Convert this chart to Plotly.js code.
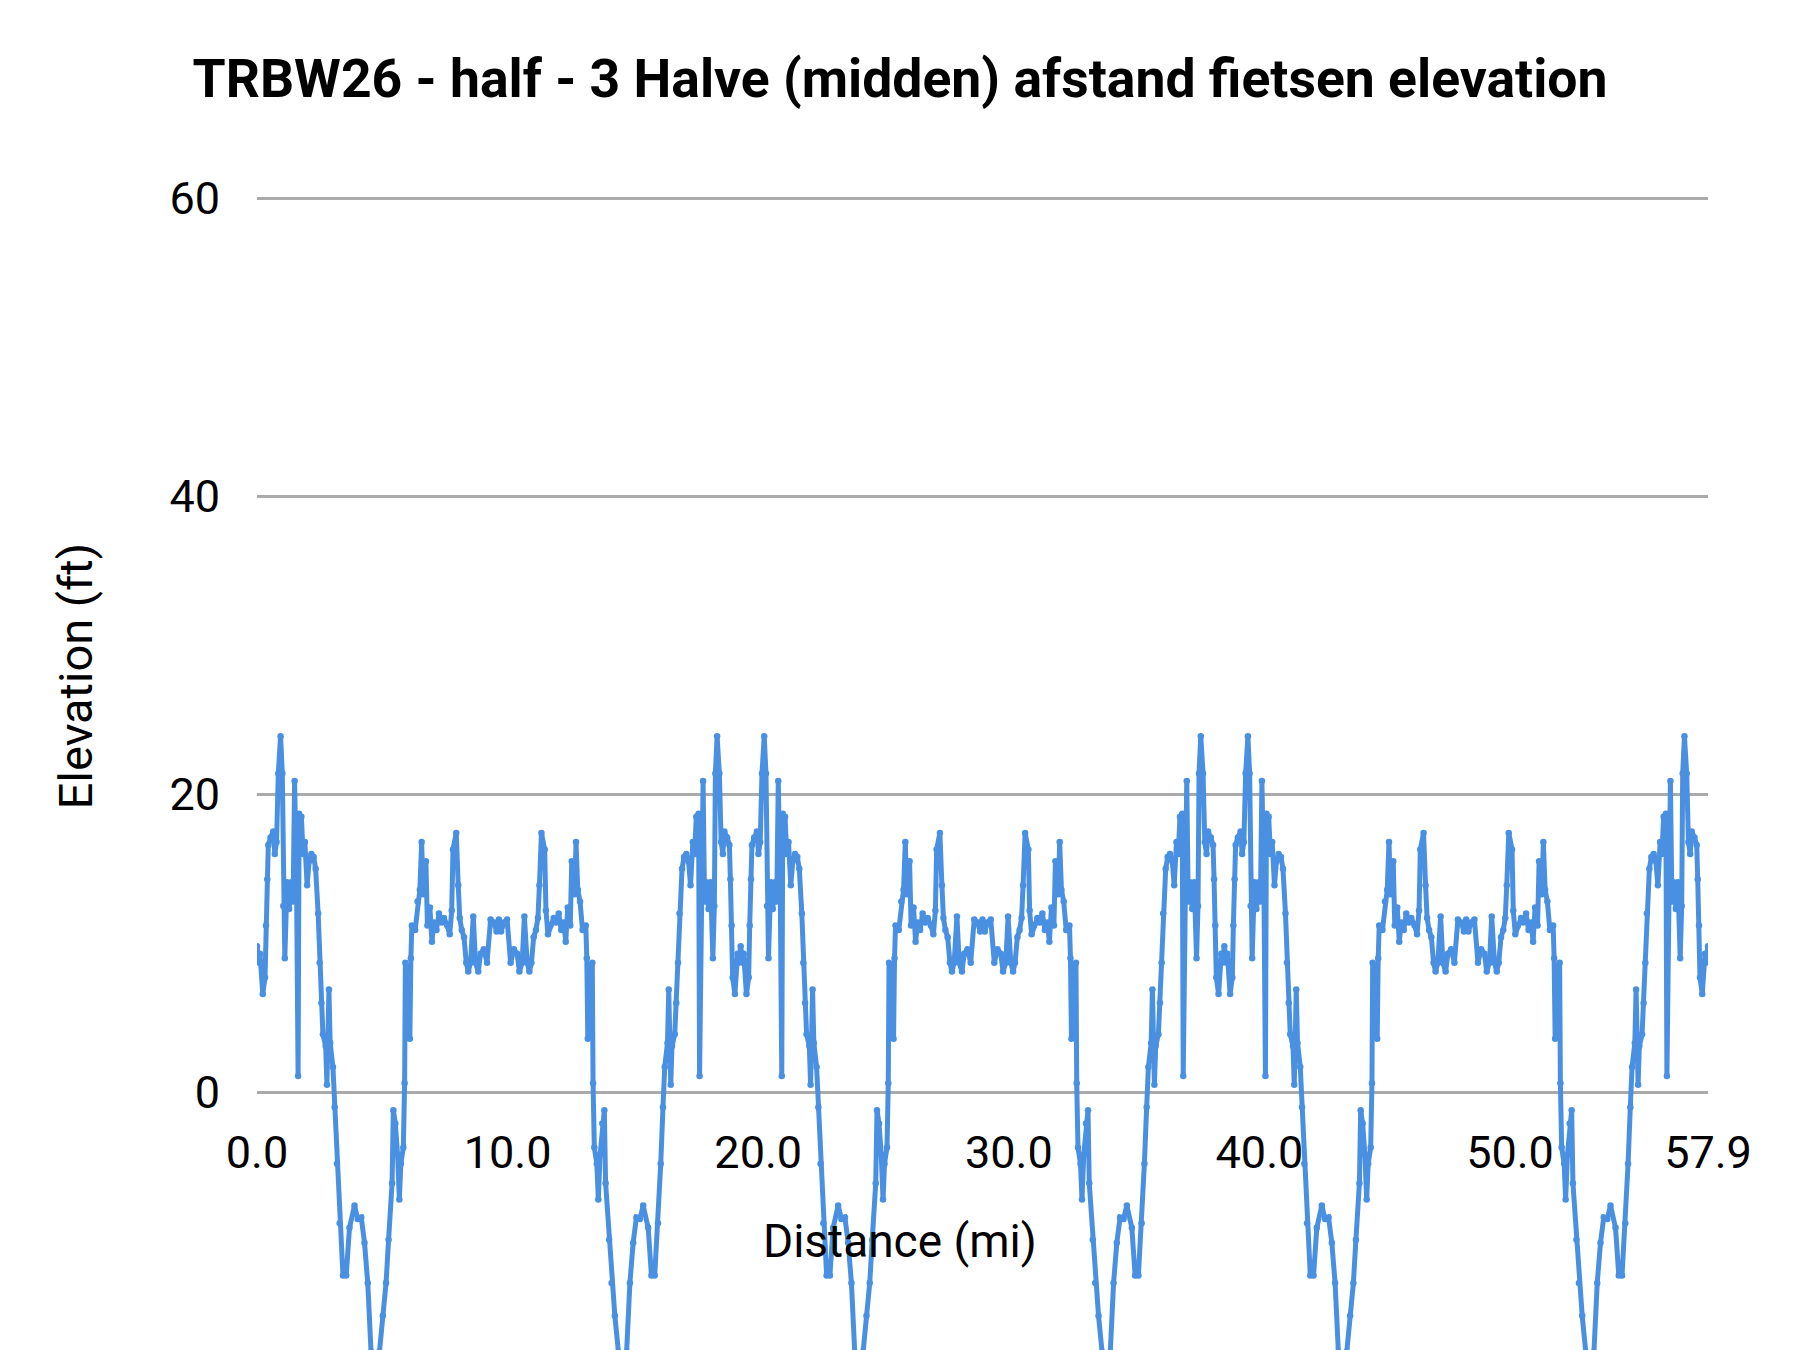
<!DOCTYPE html>
<html>
<head>
<meta charset="utf-8">
<script src="https://cdn.plot.ly/plotly-3.0.1.min.js"></script>
<style>
  html, body { margin: 0; padding: 0; background: #fff; }
  #myDiv { width: 1800px; height: 1350px; }
</style>
</head>
<body>
<div id="myDiv"></div>
<script>
// distance (mi) and elevation (ft), lap by lap
var dist1 = [
  0.00,0.09,0.12,0.23,0.32,0.36,0.41,0.45,0.54,0.65,0.71,0.78,0.85,0.94,1.01,1.05,1.11,1.20,1.28,1.38,1.44,1.50,1.58,1.64,1.68,1.77,1.84,1.91,2.00,2.08,2.17,2.26,2.34,2.44,2.50,2.57,2.63,2.74,2.79,2.87,2.92,3.03,3.10,3.19,3.30,3.43,3.56,3.69,3.89,4.02,4.16,4.29,4.42,4.55,4.71,4.88,5.02,5.15,5.25,5.39,5.44,5.52,5.61,5.68,5.74,5.84,5.89,5.92,6.01,6.10,6.14,6.18,6.31,6.41,6.50,6.57,6.63,6.74,6.80,6.90,6.98,7.06,7.16,7.26,7.37,7.46,7.59,7.69,7.77,7.82,7.95,8.03,8.09,8.17,8.26,8.35,8.43,8.52,8.63,8.72,8.83,8.92,9.05,9.18,9.32,9.45,9.56,9.65,
  9.74,9.85,9.98,10.12,10.25,10.38,10.47,10.58,10.67,10.78,10.87,10.95,11.04,11.13,11.21,11.27,11.35,11.48,11.53,11.61,11.71,11.84,11.93,12.04,12.14,12.24,12.32,12.40,12.50,12.56,12.67,12.73,12.80,12.89,12.99,13.12,13.16,13.20,13.29,13.38,13.41,13.46,13.56,13.62,13.69,13.78,13.86,13.91,14.05,14.15,14.28,14.42,14.59,14.75,14.88,15.01,15.14,15.28,15.41,15.61,15.74,15.87,16.00,16.11,16.20,16.27,16.38,16.43,16.51,16.56,16.67,16.73,16.80,16.86,16.96,17.04,17.13,17.22,17.30,17.39,17.46,17.53,17.62,17.66,17.72,17.80,17.86,17.92,18.02,18.10,18.19,18.25,18.29,18.36,18.45,18.52,18.59,18.65,18.76,18.85,18.89,18.94,18.98,19.07,19.18,19.21,19.30
];
var elev1 = [
  9.8,8.7,9.3,6.6,7.7,11.2,14.3,16.6,17.1,17.5,16.0,16.8,21.4,23.9,21.4,12.5,9.0,14.1,12.3,14.1,12.8,20.9,13.6,1.1,18.7,18.5,16.0,16.8,13.9,15.5,16.0,15.8,15.0,12.0,8.7,6.0,3.9,3.1,0.5,6.9,3.3,1.7,-1.0,-4.8,-8.8,-12.3,-12.3,-9.1,-7.6,-8.5,-8.4,-10.1,-12.8,-17.4,-20.5,-17.4,-15.0,-12.8,-9.9,-6.1,-1.2,-2.1,-4.2,-7.2,-4.8,-3.7,0.6,8.7,8.2,3.6,9.0,11.2,10.9,12.8,13.6,16.8,13.3,15.5,11.2,12.4,10.1,11.4,10.9,12.0,11.4,11.7,11.2,10.6,12.2,16.3,17.4,13.9,11.7,10.9,10.4,8.7,8.1,8.7,11.8,8.7,8.1,9.3,9.6,8.7,11.6,11.4,10.8,11.6,
  10.8,11.4,11.6,8.7,9.6,9.3,8.1,8.7,11.8,8.7,8.1,8.7,10.4,10.9,11.7,13.9,17.4,16.3,12.2,10.6,11.2,11.7,11.4,12.0,10.9,11.4,10.1,12.4,11.2,15.5,13.3,16.8,13.6,12.8,10.9,11.2,9.0,3.6,8.2,8.7,0.6,-3.7,-4.8,-7.2,-4.2,-2.1,-1.2,-6.1,-9.9,-12.8,-15.0,-17.4,-20.5,-17.4,-12.8,-10.1,-8.4,-8.5,-7.6,-9.1,-12.3,-12.3,-8.8,-4.8,-1.0,1.7,3.3,6.9,0.5,3.1,3.9,6.0,8.7,12.0,15.0,15.8,16.0,15.5,13.9,16.8,16.0,18.5,18.7,1.1,13.6,20.9,12.8,14.1,12.3,14.1,9.0,12.5,21.4,23.9,21.4,16.8,16.0,17.5,17.1,16.6,14.3,11.2,7.7,6.6,9.3,8.7,9.8
];

var dist2 = [
  19.39,19.42,19.53,19.62,19.66,19.71,19.75,19.84,19.95,20.01,20.08,20.15,20.24,20.31,20.35,20.41,20.50,20.58,20.68,20.74,20.80,20.88,20.94,20.98,21.07,21.14,21.21,21.30,21.38,21.47,21.56,21.64,21.74,21.80,21.87,21.93,22.04,22.09,22.17,22.22,22.33,22.40,22.49,22.60,22.73,22.86,22.99,23.19,23.32,23.46,23.59,23.72,23.85,24.01,24.18,24.32,24.45,24.55,24.69,24.74,24.82,24.91,24.98,25.04,25.14,25.19,25.22,25.31,25.40,25.44,25.48,25.61,25.71,25.80,25.87,25.93,26.04,26.10,26.20,26.28,26.36,26.46,26.56,26.67,26.76,26.89,26.99,27.07,27.12,27.25,27.33,27.39,27.47,27.56,27.65,27.73,27.82,27.93,28.02,28.13,28.22,28.35,28.48,28.62,28.75,28.86,28.95,
  29.04,29.15,29.28,29.42,29.55,29.68,29.77,29.88,29.97,30.08,30.17,30.25,30.34,30.43,30.51,30.57,30.65,30.78,30.83,30.91,31.01,31.14,31.23,31.34,31.44,31.54,31.62,31.70,31.80,31.86,31.97,32.03,32.10,32.19,32.29,32.42,32.46,32.50,32.59,32.68,32.71,32.76,32.86,32.92,32.99,33.08,33.16,33.21,33.35,33.45,33.58,33.72,33.89,34.05,34.18,34.31,34.44,34.58,34.71,34.91,35.04,35.17,35.30,35.41,35.50,35.57,35.68,35.73,35.81,35.86,35.97,36.03,36.10,36.16,36.26,36.34,36.43,36.52,36.60,36.69,36.76,36.83,36.92,36.96,37.02,37.10,37.16,37.22,37.32,37.40,37.49,37.55,37.59,37.66,37.75,37.82,37.89,37.95,38.06,38.15,38.19,38.24,38.28,38.37,38.48,38.51,38.60
];
var elev2 = [
  8.7,9.3,6.6,7.7,11.2,14.3,16.6,17.1,17.5,16.0,16.8,21.4,23.9,21.4,12.5,9.0,14.1,12.3,14.1,12.8,20.9,13.6,1.1,18.7,18.5,16.0,16.8,13.9,15.5,16.0,15.8,15.0,12.0,8.7,6.0,3.9,3.1,0.5,6.9,3.3,1.7,-1.0,-4.8,-8.8,-12.3,-12.3,-9.1,-7.6,-8.5,-8.4,-10.1,-12.8,-17.4,-20.5,-17.4,-15.0,-12.8,-9.9,-6.1,-1.2,-2.1,-4.2,-7.2,-4.8,-3.7,0.6,8.7,8.2,3.6,9.0,11.2,10.9,12.8,13.6,16.8,13.3,15.5,11.2,12.4,10.1,11.4,10.9,12.0,11.4,11.7,11.2,10.6,12.2,16.3,17.4,13.9,11.7,10.9,10.4,8.7,8.1,8.7,11.8,8.7,8.1,9.3,9.6,8.7,11.6,11.4,10.8,11.6,
  10.8,11.4,11.6,8.7,9.6,9.3,8.1,8.7,11.8,8.7,8.1,8.7,10.4,10.9,11.7,13.9,17.4,16.3,12.2,10.6,11.2,11.7,11.4,12.0,10.9,11.4,10.1,12.4,11.2,15.5,13.3,16.8,13.6,12.8,10.9,11.2,9.0,3.6,8.2,8.7,0.6,-3.7,-4.8,-7.2,-4.2,-2.1,-1.2,-6.1,-9.9,-12.8,-15.0,-17.4,-20.5,-17.4,-12.8,-10.1,-8.4,-8.5,-7.6,-9.1,-12.3,-12.3,-8.8,-4.8,-1.0,1.7,3.3,6.9,0.5,3.1,3.9,6.0,8.7,12.0,15.0,15.8,16.0,15.5,13.9,16.8,16.0,18.5,18.7,1.1,13.6,20.9,12.8,14.1,12.3,14.1,9.0,12.5,21.4,23.9,21.4,16.8,16.0,17.5,17.1,16.6,14.3,11.2,7.7,6.6,9.3,8.7,9.8
];

var dist3 = [
  38.69,38.72,38.83,38.92,38.96,39.01,39.05,39.14,39.25,39.31,39.38,39.45,39.54,39.61,39.65,39.71,39.80,39.88,39.98,40.04,40.10,40.18,40.24,40.28,40.37,40.44,40.51,40.60,40.68,40.77,40.86,40.94,41.04,41.10,41.17,41.23,41.34,41.39,41.47,41.52,41.63,41.70,41.79,41.90,42.03,42.16,42.29,42.49,42.62,42.76,42.89,43.02,43.15,43.31,43.48,43.62,43.75,43.85,43.99,44.04,44.12,44.21,44.28,44.34,44.44,44.49,44.52,44.61,44.70,44.74,44.78,44.91,45.01,45.10,45.17,45.23,45.34,45.40,45.50,45.58,45.66,45.76,45.86,45.97,46.06,46.19,46.29,46.37,46.42,46.55,46.63,46.69,46.77,46.86,46.95,47.03,47.12,47.23,47.32,47.43,47.52,47.65,47.78,47.92,48.05,48.16,48.25,
  48.34,48.45,48.58,48.72,48.85,48.98,49.07,49.18,49.27,49.38,49.47,49.55,49.64,49.73,49.81,49.87,49.95,50.08,50.13,50.21,50.31,50.44,50.53,50.64,50.74,50.84,50.92,51.00,51.10,51.16,51.27,51.33,51.40,51.49,51.59,51.72,51.76,51.80,51.89,51.98,52.01,52.06,52.16,52.22,52.29,52.38,52.46,52.51,52.65,52.75,52.88,53.02,53.19,53.35,53.48,53.61,53.74,53.88,54.01,54.21,54.34,54.47,54.60,54.71,54.80,54.87,54.98,55.03,55.11,55.16,55.27,55.33,55.40,55.46,55.56,55.64,55.73,55.82,55.90,55.99,56.06,56.13,56.22,56.26,56.32,56.40,56.46,56.52,56.62,56.70,56.79,56.85,56.89,56.96,57.05,57.12,57.19,57.25,57.36,57.45,57.49,57.54,57.58,57.67,57.78,57.81,57.90
];
var elev3 = [
  8.7,9.3,6.6,7.7,11.2,14.3,16.6,17.1,17.5,16.0,16.8,21.4,23.9,21.4,12.5,9.0,14.1,12.3,14.1,12.8,20.9,13.6,1.1,18.7,18.5,16.0,16.8,13.9,15.5,16.0,15.8,15.0,12.0,8.7,6.0,3.9,3.1,0.5,6.9,3.3,1.7,-1.0,-4.8,-8.8,-12.3,-12.3,-9.1,-7.6,-8.5,-8.4,-10.1,-12.8,-17.4,-20.5,-17.4,-15.0,-12.8,-9.9,-6.1,-1.2,-2.1,-4.2,-7.2,-4.8,-3.7,0.6,8.7,8.2,3.6,9.0,11.2,10.9,12.8,13.6,16.8,13.3,15.5,11.2,12.4,10.1,11.4,10.9,12.0,11.4,11.7,11.2,10.6,12.2,16.3,17.4,13.9,11.7,10.9,10.4,8.7,8.1,8.7,11.8,8.7,8.1,9.3,9.6,8.7,11.6,11.4,10.8,11.6,
  10.8,11.4,11.6,8.7,9.6,9.3,8.1,8.7,11.8,8.7,8.1,8.7,10.4,10.9,11.7,13.9,17.4,16.3,12.2,10.6,11.2,11.7,11.4,12.0,10.9,11.4,10.1,12.4,11.2,15.5,13.3,16.8,13.6,12.8,10.9,11.2,9.0,3.6,8.2,8.7,0.6,-3.7,-4.8,-7.2,-4.2,-2.1,-1.2,-6.1,-9.9,-12.8,-15.0,-17.4,-20.5,-17.4,-12.8,-10.1,-8.4,-8.5,-7.6,-9.1,-12.3,-12.3,-8.8,-4.8,-1.0,1.7,3.3,6.9,0.5,3.1,3.9,6.0,8.7,12.0,15.0,15.8,16.0,15.5,13.9,16.8,16.0,18.5,18.7,1.1,13.6,20.9,12.8,14.1,12.3,14.1,9.0,12.5,21.4,23.9,21.4,16.8,16.0,17.5,17.1,16.6,14.3,11.2,7.7,6.6,9.3,8.7,9.8
];

var xTickVals = [0, 10, 20, 30, 40, 50, 57.9];
var xTickText = ["0.0", "10.0", "20.0", "30.0", "40.0", "50.0", "57.9"];
var yTickVals = [0, 20, 40, 60];

var trace = {
  x: dist1.concat(dist2, dist3),
  y: elev1.concat(elev2, elev3),
  type: "scatter",
  mode: "lines+markers",
  line: {color: "#4a90e2", width: 5},
  marker: {color: "#4a90e2", size: 6.5},
  hoverinfo: "none"
};

// a little headroom above 60 so its gridline is not dropped at the plot edge
var yMin = -17.3, yMax = 60.5;
var pxPerFt = 14.9;

var layout = {
  width: 1800,
  height: 1350,
  showlegend: false,
  paper_bgcolor: "#ffffff",
  plot_bgcolor: "#ffffff",
  font: {family: "Roboto, Arial, sans-serif", color: "#000000"},
  margin: {l: 257, r: 92, t: 1350 - (yMax - yMin) * pxPerFt, b: 0, pad: 0},
  title: {
    text: "<b>TRBW26 - half - 3 Halve (midden) afstand fietsen elevation</b>",
    font: {family: "Roboto", size: 53.5, color: "#000000"},
    x: 0.5, xanchor: "center",
    y: 1 - 78 / 1350, yanchor: "middle", yref: "container"
  },
  xaxis: {
    range: [0, 57.9],
    tickvals: xTickVals,
    ticktext: xTickText,
    showgrid: false,
    zeroline: false,
    showline: false,
    ticks: "",
    anchor: "free",
    position: (0 - yMin) / (yMax - yMin),
    ticklabelstandoff: 30,
    tickfont: {size: 45, color: "#000000"},
    layer: "below traces"
  },
  yaxis: {
    range: [yMin, yMax],
    tickvals: yTickVals,
    showgrid: true,
    gridcolor: "#aaaaaa",
    gridwidth: 2.5,
    zeroline: false,
    showline: false,
    ticks: "",
    ticklabelstandoff: 36,
    tickfont: {size: 45, color: "#000000"},
    layer: "below traces"
  },
  annotations: [
    {
      text: "Elevation (ft)",
      xref: "paper", yref: "paper",
      x: (75 - 257) / 1451, y: (1350 - 676) / ((yMax - yMin) * pxPerFt),
      xanchor: "center", yanchor: "middle",
      textangle: -90, showarrow: false,
      font: {size: 47, color: "#000000"}
    },
    {
      text: "Distance (mi)",
      xref: "paper", yref: "paper",
      x: (900 - 257) / 1451, y: (1350 - 1241) / ((yMax - yMin) * pxPerFt),
      xanchor: "center", yanchor: "middle",
      showarrow: false,
      font: {size: 46, color: "#000000"}
    }
  ]
};

Plotly.newPlot("myDiv", [trace], layout, {displayModeBar: false, staticPlot: true});
</script>
</body>
</html>
